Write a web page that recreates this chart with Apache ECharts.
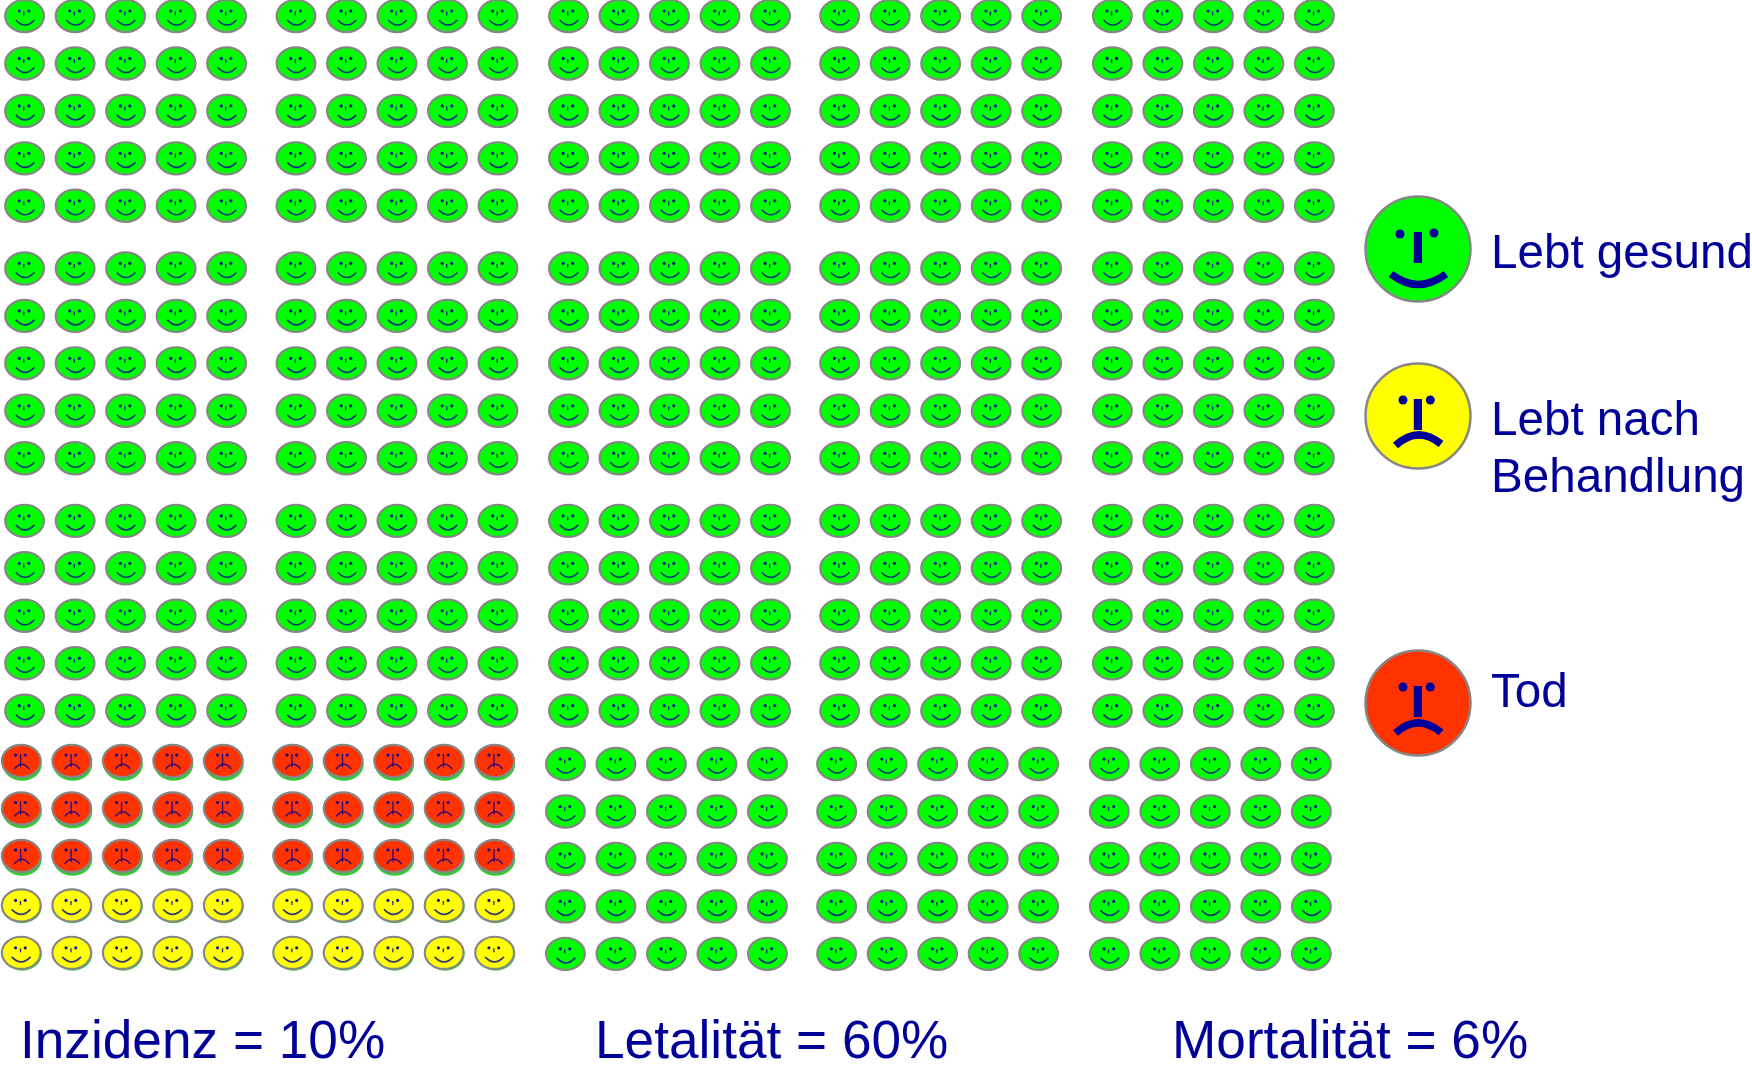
<!DOCTYPE html>
<html>
<head>
<meta charset="utf-8">
<style>html,body{margin:0;padding:0;background:#fff}#c{width:1752px;height:1066px}</style>
<script src="https://cdn.jsdelivr.net/npm/echarts@6/dist/echarts.min.js"></script>
</head>
<body>
<div id="c"></div>
<script>
// ---- data: one letter per person, 20 rows of 25 (G = Lebt gesund, Y = Lebt nach Behandlung, R = Tod)
const outcomeLabels = ['Lebt gesund', 'Lebt nach Behandlung', 'Tod'];
const outcomeKeys = ['G', 'Y', 'R'];
const faceRows = [
  'GGGGGGGGGGGGGGGGGGGGGGGGG','GGGGGGGGGGGGGGGGGGGGGGGGG','GGGGGGGGGGGGGGGGGGGGGGGGG','GGGGGGGGGGGGGGGGGGGGGGGGG','GGGGGGGGGGGGGGGGGGGGGGGGG',
  'GGGGGGGGGGGGGGGGGGGGGGGGG','GGGGGGGGGGGGGGGGGGGGGGGGG','GGGGGGGGGGGGGGGGGGGGGGGGG','GGGGGGGGGGGGGGGGGGGGGGGGG','GGGGGGGGGGGGGGGGGGGGGGGGG',
  'GGGGGGGGGGGGGGGGGGGGGGGGG','GGGGGGGGGGGGGGGGGGGGGGGGG','GGGGGGGGGGGGGGGGGGGGGGGGG','GGGGGGGGGGGGGGGGGGGGGGGGG','GGGGGGGGGGGGGGGGGGGGGGGGG',
  'RRRRRRRRRRGGGGGGGGGGGGGGG','RRRRRRRRRRGGGGGGGGGGGGGGG','RRRRRRRRRRGGGGGGGGGGGGGGG','YYYYYYYYYYGGGGGGGGGGGGGGG','YYYYYYYYYYGGGGGGGGGGGGGGG'
];
const captions = ['Inzidenz = 10%', 'Letalität = 60%', 'Mortalität = 6%'];

// ---- layout
const W = 1752, H = 1066;
const cellW = 50.5, cellH = 47.45, originX = 24.6, originY = 16;
const blockStart = [0, 5.374, 10.77, 16.14, 21.54];
const bandStart = [0, 5.32, 10.64, 15.765];
const lastBandShiftX = -0.06;
const NAVY = '#000099', GRAY = '#868686';
const fills = ['#00ff00', '#ffff00', '#ff3300'];

function gridPos(r, c) {
  const band = Math.floor(r / 5), block = Math.floor(c / 5);
  return [blockStart[block] + c % 5 + (band === 3 ? lastBandShiftX : 0), bandStart[band] + r % 5];
}
const faceData = [], underlayData = [];
faceRows.forEach((row, r) => {
  row.split('').forEach((ch, c) => {
    const kind = outcomeKeys.indexOf(ch), p = gridPos(r, c);
    faceData.push([p[0], p[1], kind]);
    if (kind !== 0) underlayData.push([p[0], p[1], kind]);
  });
});

function smallFace(x, y, kind) {
  const dy = kind === 2 ? -3.0 : kind === 1 ? -1 : 0;
  const dx = kind === 0 ? 0 : -0.3;
  const lines = { stroke: NAVY, lineWidth: 1.4, fill: 'none', opacity: 0.8 };
  const eyeY = kind === 2 ? -6 : -5;
  const eyes = kind === 0 ? [-5.3, 4.3] : [-5.7, 4];
  const children = [
    { type: 'ellipse', shape: { cx: 0, cy: 0, rx: 19.4, ry: 16.1 }, style: { fill: fills[kind], stroke: GRAY, lineWidth: 2.2 } },
    { type: 'circle', shape: { cx: eyes[0], cy: eyeY, r: 1.6 }, style: { fill: NAVY, opacity: 0.9 } },
    { type: 'circle', shape: { cx: eyes[1], cy: eyeY, r: 1.6 }, style: { fill: NAVY, opacity: 0.9 } }
  ];
  if (kind === 2) {
    children.push({ type: 'line', shape: { x1: -0.7, y1: -7, x2: -0.7, y2: 6 }, style: lines });
    children.push({ type: 'bezierCurve', shape: { x1: -7, y1: 8, x2: 8, y2: 8, cpx1: 0.5, cpy1: -1.5 }, style: lines });
  } else {
    children.push({ type: 'line', shape: { x1: -0.8, y1: -4.5, x2: -0.8, y2: -0.5 }, style: lines });
    const lx = kind === 0 ? -8.8 : -9.6, rx = kind === 0 ? 9.8 : 9.3;
    children.push({ type: 'bezierCurve', shape: { x1: lx, y1: 4, x2: rx, y2: 4, cpx1: (lx + rx) / 2, cpy1: 14 }, style: Object.assign({}, lines, { lineWidth: 1.6 }) });
  }
  return { type: 'group', x: x + dx, y: y + dy, children };
}

function bigFace(x, y, kind) {
  const bar = { stroke: NAVY, lineWidth: 7.5, fill: 'none' };
  const eyes = kind === 0 ? [[-18, -15], [16, -16]] : [[-15, -16], [12.3, -16]];
  const mouth = kind === 0
    ? { x1: -27, y1: 25, x2: 28, y2: 25, cpx1: 0, cpy1: 46 }
    : kind === 1
      ? { x1: -22.5, y1: 29.5, x2: 23, y2: 28, cpx1: 0, cpy1: 9 }
      : { x1: -22.5, y1: 30, x2: 23, y2: 29.5, cpx1: 0, cpy1: 10 };
  return {
    type: 'group', x, y, children: [
      { type: 'circle', shape: { cx: 0, cy: 0, r: 52.5 }, style: { fill: fills[kind], stroke: GRAY, lineWidth: 2.5 } },
      { type: 'circle', shape: { cx: eyes[0][0], cy: eyes[0][1], r: 4.5 }, style: { fill: NAVY } },
      { type: 'circle', shape: { cx: eyes[1][0], cy: eyes[1][1], r: 4.5 }, style: { fill: NAVY } },
      { type: 'rect', shape: { x: -4.2, y: -17, width: 8.2, height: 31 }, style: { fill: NAVY } },
      { type: 'bezierCurve', shape: mouth, style: bar }
    ]
  };
}

function txt(text, x, y, size) {
  return { type: 'text', x, y, silent: true,
    style: { text, x: 0, y: 0, fill: NAVY, font: size + 'px "Liberation Sans", Arial, sans-serif', textAlign: 'left', textVerticalAlign: 'bottom' } };
}

const chart = echarts.init(document.getElementById('c'), null, { renderer: 'canvas' });
chart.setOption({
  animation: false,
  backgroundColor: '#ffffff',
  grid: { left: 0, right: 0, top: 0, bottom: 0 },
  xAxis: { type: 'value', show: false, min: -originX / cellW, max: (W - originX) / cellW },
  yAxis: { type: 'value', show: false, inverse: true, min: -originY / cellH, max: (H - originY) / cellH },
  series: [
    {
      name: 'Underlay', type: 'custom', coordinateSystem: 'cartesian2d', clip: false, silent: true, z: 1,
      data: underlayData,
      renderItem(params, api) {
        const p = api.coord([api.value(0), api.value(1)]);
        return { type: 'ellipse', shape: { cx: p[0] + 0.6, cy: p[1] + 0.2, rx: 19.6, ry: 16.6 }, style: { fill: '#33cc33' } };
      }
    },
    {
      name: 'Faces', type: 'custom', coordinateSystem: 'cartesian2d', clip: false, silent: true, z: 2,
      data: faceData,
      renderItem(params, api) {
        const p = api.coord([api.value(0), api.value(1)]);
        return smallFace(p[0], p[1], api.value(2));
      }
    }
  ],
  graphic: { elements: [
    bigFace(1418, 249, 0), bigFace(1418, 416, 1), bigFace(1418, 703, 2),
    txt('Lebt gesund', 1491, 279, 47.6),
    txt('Lebt nach', 1491, 446, 47.6),
    txt('Behandlung', 1491, 503, 47.6),
    txt('Tod', 1491, 718, 47.6),
    txt(captions[0], 20, 1070, 53.2),
    txt(captions[1], 595, 1070, 53.2),
    txt(captions[2], 1172, 1070, 53.2)
  ] }
});
</script>
</body>
</html>
